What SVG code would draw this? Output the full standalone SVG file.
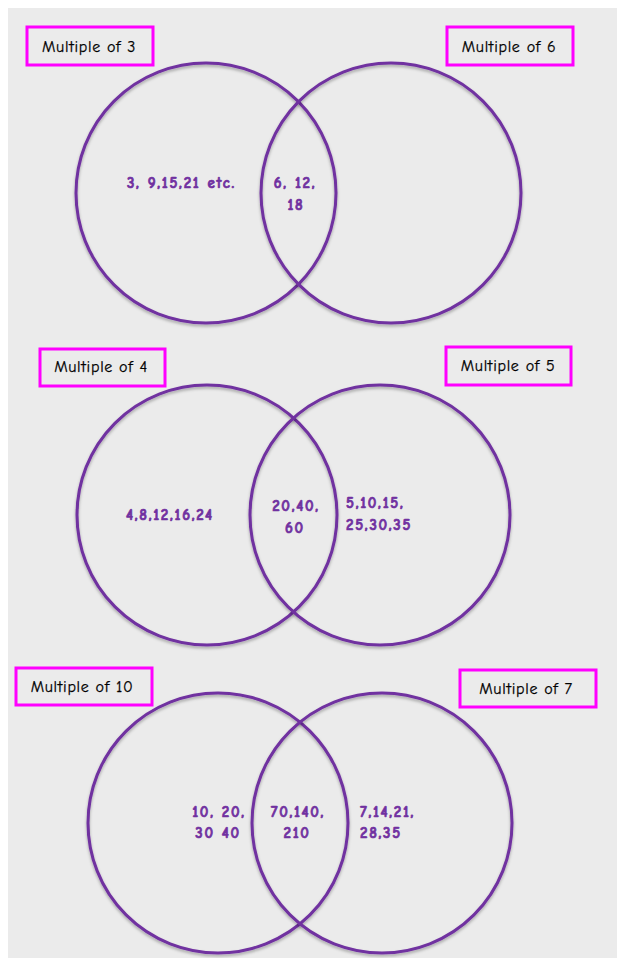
<svg xmlns="http://www.w3.org/2000/svg" width="617" height="958" viewBox="0 0 617 958">
  <style>
    .ring { fill: none; stroke: #7030a0; stroke-width: 3; filter: url(#shade); }
    .tag { fill: #ebebeb; stroke: #ff00ff; stroke-width: 3; }
    .tagText { font-family: "Comic Sans MS", "Comic Neue", "DejaVu Sans", sans-serif; font-size: 16px; fill: #000; stroke: #000; stroke-width: 0.25px; text-anchor: middle; letter-spacing: 0.7px; }
    .num { font-family: "Comic Sans MS", "Comic Neue", "DejaVu Sans", sans-serif; font-size: 15px; font-weight: bold; fill: #7030a0; stroke: #7030a0; stroke-width: 0.7px; letter-spacing: 1.7px; }
    .mid { text-anchor: middle; }
  </style>
  <defs>
    <filter id="shade" x="-10%" y="-10%" width="120%" height="125%">
      <feDropShadow dx="0" dy="2" stdDeviation="1.5" flood-color="#000" flood-opacity="0.3"/>
    </filter>
  </defs>

  <!-- page -->
  <rect x="0" y="0" width="617" height="958" fill="#ffffff"/>
  <rect x="8" y="8" width="609" height="950" fill="#ebebeb"/>

  <!-- multiples of 3 and 6 -->
  <g id="set-3">
    <circle class="ring" cx="206" cy="193" r="130"/>
    <rect class="tag" x="27" y="27" width="126" height="38"/>
    <text class="tagText" x="89" y="52">Multiple of 3</text>
    <text class="num" x="127" y="188">3, 9,15,21 etc.</text>
  </g>
  <g id="set-6">
    <circle class="ring" cx="391" cy="193" r="130"/>
    <rect class="tag" x="447" y="27" width="126" height="38"/>
    <text class="tagText" x="509" y="52">Multiple of 6</text>
  </g>
  <g id="both-3-6">
    <text class="num mid" x="295" y="188">6, 12,</text>
    <text class="num mid" x="296" y="210">18</text>
  </g>

  <!-- multiples of 4 and 5 -->
  <g id="set-4">
    <circle class="ring" cx="207" cy="515" r="130"/>
    <rect class="tag" x="40" y="349" width="125" height="37"/>
    <text class="tagText" x="101" y="372">Multiple of 4</text>
    <text class="num" x="126" y="520">4,8,12,16,24</text>
  </g>
  <g id="set-5">
    <circle class="ring" cx="380" cy="515" r="130"/>
    <rect class="tag" x="446" y="347" width="125" height="38"/>
    <text class="tagText" x="508" y="371">Multiple of 5</text>
    <text class="num" x="346" y="508">5,10,15,</text>
    <text class="num" x="346" y="530">25,30,35</text>
  </g>
  <g id="both-4-5">
    <text class="num mid" x="296" y="511">20,40,</text>
    <text class="num mid" x="295" y="533">60</text>
  </g>

  <!-- multiples of 10 and 7 -->
  <g id="set-10">
    <circle class="ring" cx="218" cy="823" r="130"/>
    <rect class="tag" x="16" y="668" width="136" height="37"/>
    <text class="tagText" x="82" y="692">Multiple of 10</text>
    <text class="num mid" x="219" y="817">10, 20,</text>
    <text class="num mid" x="218" y="838">30 40</text>
  </g>
  <g id="set-7">
    <circle class="ring" cx="382" cy="823" r="130"/>
    <rect class="tag" x="460" y="670" width="136" height="37"/>
    <text class="tagText" x="526" y="694">Multiple of 7</text>
    <text class="num" x="360" y="817">7,14,21,</text>
    <text class="num" x="360" y="838">28,35</text>
  </g>
  <g id="both-10-7">
    <text class="num mid" x="298" y="817">70,140,</text>
    <text class="num mid" x="297" y="838">210</text>
  </g>

  <g id="connectors"/>
</svg>
